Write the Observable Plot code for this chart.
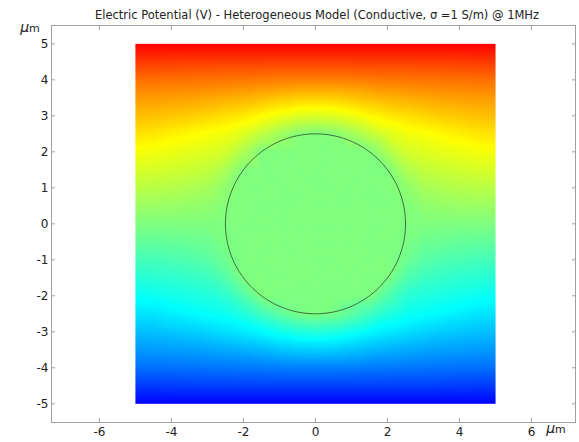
<!DOCTYPE html>
<html><head><meta charset="utf-8">
<script src="https://cdn.jsdelivr.net/npm/d3@7"></script>
<script src="https://cdn.jsdelivr.net/npm/@observablehq/plot@0.6"></script>
<style>body{margin:0;background:#fff}</style>
</head><body><div id="chart"></div>
<script>
const title = "Electric Potential (V) - Heterogeneous Model (Conductive, \u03c3 =1 S/m) @ 1MHz";
const gridX = [-5,-4.5,-4,-3.5,-3,-2.5,-2,-1.5,-1,-0.5,0,0.5,1,1.5,2,2.5,3,3.5,4,4.5,5];
const gridY = [5,4.5,4,3.5,3,2.5,2,1.5,1,0.5,0,-0.5,-1,-1.5,-2,-2.5,-3,-3.5,-4,-4.5,-5];
// potential (V), rows follow gridY, columns follow gridX
const potential = [
 [1,1,1,1,1,1,1,1,1,1,1,1,1,1,1,1,1,1,1,1,1],
 [.925,.924,.922,.920,.918,.917,.917,.917,.917,.917,.917,.917,.917,.917,.917,.917,.918,.920,.922,.924,.925],
 [.854,.853,.851,.850,.847,.845,.842,.839,.836,.833,.833,.833,.836,.839,.842,.845,.847,.850,.851,.853,.854],
 [.799,.797,.793,.789,.783,.775,.767,.756,.742,.732,.729,.732,.742,.756,.767,.775,.783,.789,.793,.797,.799],
 [.751,.747,.739,.731,.720,.706,.692,.672,.646,.625,.619,.625,.646,.672,.692,.706,.720,.731,.739,.747,.751],
 [.703,.697,.685,.673,.661,.649,.623,.583,.543,.511,.500,.511,.543,.583,.623,.649,.661,.673,.685,.697,.703],
 [.657,.652,.643,.634,.624,.608,.559,.5,.5,.5,.5,.5,.5,.5,.559,.608,.624,.634,.643,.652,.657],
 [.617,.613,.606,.598,.587,.558,.5,.5,.5,.5,.5,.5,.5,.5,.5,.558,.587,.598,.606,.613,.617],
 [.577,.575,.569,.562,.550,.520,.5,.5,.5,.5,.5,.5,.5,.5,.5,.520,.550,.562,.569,.575,.577],
 [.538,.537,.534,.528,.522,.505,.5,.5,.5,.5,.5,.5,.5,.5,.5,.505,.522,.528,.534,.537,.538],
 [.5,.5,.5,.5,.5,.5,.5,.5,.5,.5,.5,.5,.5,.5,.5,.5,.5,.5,.5,.5,.5],
 [.462,.463,.466,.472,.478,.495,.5,.5,.5,.5,.5,.5,.5,.5,.5,.495,.478,.472,.466,.463,.462],
 [.423,.425,.431,.438,.450,.480,.5,.5,.5,.5,.5,.5,.5,.5,.5,.480,.450,.438,.431,.425,.423],
 [.383,.387,.394,.402,.413,.442,.5,.5,.5,.5,.5,.5,.5,.5,.5,.442,.413,.402,.394,.387,.383],
 [.343,.348,.357,.366,.376,.392,.441,.5,.5,.5,.5,.5,.5,.5,.441,.392,.376,.366,.357,.348,.343],
 [.297,.303,.315,.327,.339,.351,.377,.417,.457,.489,.500,.489,.457,.417,.377,.351,.339,.327,.315,.303,.297],
 [.249,.253,.261,.269,.280,.294,.308,.328,.354,.375,.381,.375,.354,.328,.308,.294,.280,.269,.261,.253,.249],
 [.201,.203,.207,.211,.217,.225,.233,.244,.258,.268,.271,.268,.258,.244,.233,.225,.217,.211,.207,.203,.201],
 [.146,.147,.149,.150,.153,.155,.158,.161,.164,.167,.167,.167,.164,.161,.158,.155,.153,.150,.149,.147,.146],
 [.075,.076,.078,.080,.082,.083,.083,.083,.083,.083,.083,.083,.083,.083,.083,.083,.082,.080,.078,.076,.075],
 [0,0,0,0,0,0,0,0,0,0,0,0,0,0,0,0,0,0,0,0,0]
];
const domainExtent = [-5, 5];
const sphereRadius = 2.5;
const xTicks = [-6,-4,-2,0,2,4,6];
const yTicks = [-5,-4,-3,-2,-1,0,1,2,3,4,5];
const colorStops = [0, 1/3, 2/3, 1];
const colorRange = ["#0000ff", "#00ffff", "#ffff00", "#ff0000"];

const cells = [];
gridY.forEach((y, i) => gridX.forEach((x, j) => cells.push({x, y, v: potential[i][j]})));
const outline = d3.range(0, 361, 2).map(a => ({
  x: sphereRadius * Math.cos(a * Math.PI / 180),
  y: sphereRadius * Math.sin(a * Math.PI / 180)
}));
const fmt = d => String(d);

const plot = Plot.plot({
  width: 579, height: 442,
  marginLeft: 51, marginRight: 4, marginTop: 25, marginBottom: 20,
  x: {domain: [-7.33, 7.22]},
  y: {domain: [-5.52, 5.51]},
  color: {type: "linear", domain: colorStops, range: colorRange, interpolate: "rgb"},
  style: {fontFamily: "DejaVu Sans", fontSize: "12px", color: "#222", background: "#fff"},
  marks: [
    Plot.raster(cells, {x: "x", y: "y", fill: "v",
      x1: domainExtent[0], x2: domainExtent[1], y1: domainExtent[0], y2: domainExtent[1],
      interpolate: "barycentric"}),
    Plot.line(outline, {x: "x", y: "y", stroke: "#2f552f", strokeWidth: 0.85}),
    Plot.frame({stroke: "#a0a0a0"}),
    Plot.axisX(xTicks, {anchor: "bottom", tickSize: -4, tickPadding: 9, tickFormat: fmt, label: null, stroke: "#a0a0a0", fill: "#222"}),
    Plot.axisX(xTicks, {anchor: "top", tickSize: -4, tickFormat: () => "", label: null, stroke: "#a0a0a0"}),
    Plot.axisY(yTicks, {anchor: "left", tickSize: -4, tickPadding: 7, tickFormat: fmt, label: null, stroke: "#a0a0a0", fill: "#222"}),
    Plot.axisY(yTicks, {anchor: "right", tickSize: -4, tickFormat: () => "", label: null, stroke: "#a0a0a0"})
  ]
});
document.getElementById("chart").appendChild(plot);

const svg = d3.select(plot);
svg.append("text").attr("x", 317).attr("y", 19).attr("text-anchor", "middle")
  .attr("font-family", "DejaVu Sans").attr("font-size", 11.5).attr("fill", "#222").text(title);
function unit(x, y) {
  const t = svg.append("text").attr("x", x).attr("y", y)
    .attr("font-family", "DejaVu Sans").attr("font-size", 11).attr("fill", "#222");
  t.append("tspan").attr("font-style", "italic").attr("font-size", 14).text("\u03bc");
  t.append("tspan").text("m");
}
unit(30, 32);
unit(556, 433);
</script>
</body></html>
